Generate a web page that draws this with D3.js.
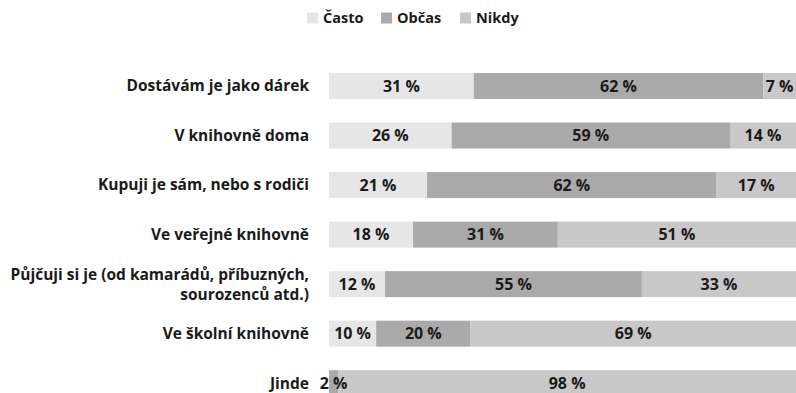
<!DOCTYPE html>
<html><head><meta charset="utf-8">
<script src="https://cdn.jsdelivr.net/npm/d3@7"></script>
<style>
html,body{margin:0;padding:0;background:#fff;}
svg text{font-family:"Open Sans",sans-serif;font-weight:700;fill:#1a1a1a;}
</style></head><body>
<svg id="c" width="796" height="393"></svg>
<script>
const categories = [
  "Dostávám je jako dárek",
  "V knihovně doma",
  "Kupuji je sám, nebo s rodiči",
  "Ve veřejné knihovně",
  "Půjčuji si je (od kamarádů, příbuzných,|sourozenců atd.)",
  "Ve školní knihovně",
  "Jinde"
];
const seriesNames = ["Často", "Občas", "Nikdy"];
const casto = [31, 26, 21, 18, 12, 10, 0];
const obcas = [62, 59, 62, 31, 55, 20, 2];
const nikdy = [7, 14, 17, 51, 33, 69, 98];
const colors = ["#e6e6e6", "#aaaaaa", "#c8c8c8"];

const svg = d3.select("#c");
const x = d3.scaleLinear().domain([0, 1]).range([329, 796]);
const y = d3.scaleBand().domain(categories).range([73, 396.2]).paddingInner(0.475).paddingOuter(0);

const rows = categories.map((c, i) => {
  const vals = [casto[i], obcas[i], nikdy[i]];
  const tot = d3.sum(vals);
  let acc = 0;
  return vals.map((v, k) => { const s = {cat: c, k, v, x0: acc / tot, x1: (acc + v) / tot}; acc += v; return s; });
});

const g = svg.append("g");
rows.forEach(segs => {
  segs.forEach(s => {
    if (s.v <= 0) return;
    g.append("rect").attr("x", x(s.x0)).attr("y", y(s.cat)).attr("width", x(s.x1) - x(s.x0))
      .attr("height", y.bandwidth()).attr("fill", colors[s.k]);
  });
  segs.forEach(s => {
    if (s.v <= 0) return;
    g.append("text").attr("x", (x(s.x0) + x(s.x1)) / 2).attr("y", y(s.cat) + y.bandwidth() / 2)
      .attr("dy", "0.35em").attr("text-anchor", "middle").style("font-size", "16px").text(s.v + " %");
  });
});

// category labels
categories.forEach(c => {
  const lines = c.split("|");
  const cy = y(c) + y.bandwidth() / 2;
  const t = svg.append("text").attr("text-anchor", "end").style("font-size", "15.5px");
  lines.forEach((l, j) => {
    t.append("tspan").attr("x", 309).attr("y", cy + (j - (lines.length - 1) / 2) * 20).attr("dy", "0.35em").text(l);
  });
});

// legend
const legX = [307, 381, 460];
const lg = svg.append("g");
seriesNames.forEach((n, i) => {
  lg.append("rect").attr("x", legX[i]).attr("y", 12.5).attr("width", 11).attr("height", 11).attr("fill", colors[i]);
  lg.append("text").attr("x", legX[i] + 16).attr("y", 18).attr("dy", "0.35em").style("font-size", "14.5px").text(n);
});
</script></body></html>
